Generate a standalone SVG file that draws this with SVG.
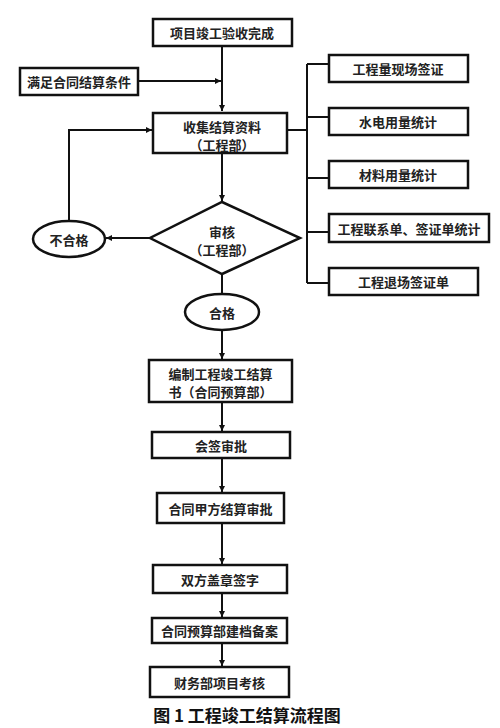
<svg xmlns="http://www.w3.org/2000/svg" width="500" height="728" viewBox="0 0 500 728">
<defs>
<marker id="ah" markerWidth="8" markerHeight="8" refX="6" refY="4" orient="auto" markerUnits="userSpaceOnUse">
<path d="M0,1 L6,4 L0,7 Z" fill="#111"/>
</marker>
<style>
.box{fill:#fff;stroke:#111;stroke-width:2.5}
.ln{fill:none;stroke:#111;stroke-width:2}
.t{font-family:"Noto Sans CJK SC","Noto Sans",sans-serif;font-weight:bold;font-size:13px;fill:#222;text-anchor:middle;dominant-baseline:central}
.cap{font-family:"Noto Sans CJK SC","Noto Sans",sans-serif;font-weight:bold;font-size:17px;fill:#111;text-anchor:middle}
</style>
</defs>
<rect width="500" height="728" fill="#fff"/>
<g id="connectors">
<line class="ln" x1="222" y1="46" x2="222" y2="111" marker-end="url(#ah)"/>
<line class="ln" x1="138" y1="81" x2="221" y2="81" marker-end="url(#ah)"/>
<polyline class="ln" points="287,130 307,130"/>
<line class="ln" x1="307" y1="64" x2="307" y2="283"/>
<line class="ln" x1="307" y1="64" x2="329" y2="64"/>
<line class="ln" x1="307" y1="117" x2="329" y2="117"/>
<line class="ln" x1="307" y1="178" x2="329" y2="178"/>
<line class="ln" x1="307" y1="232" x2="329" y2="232"/>
<line class="ln" x1="307" y1="283" x2="329" y2="283"/>
<line class="ln" x1="222" y1="153" x2="222" y2="201" marker-end="url(#ah)"/>
<line class="ln" x1="150" y1="238" x2="106" y2="238" marker-end="url(#ah)"/>
<polyline class="ln" points="69,221 69,130 152,130" marker-end="url(#ah)"/>
<line class="ln" x1="222" y1="274" x2="222" y2="294"/>
<line class="ln" x1="222" y1="330" x2="222" y2="359" marker-end="url(#ah)"/>
<line class="ln" x1="222" y1="402" x2="222" y2="431" marker-end="url(#ah)"/>
<line class="ln" x1="222" y1="458" x2="222" y2="492" marker-end="url(#ah)"/>
<line class="ln" x1="222" y1="523" x2="222" y2="564" marker-end="url(#ah)"/>
<line class="ln" x1="222" y1="593" x2="222" y2="617" marker-end="url(#ah)"/>
<line class="ln" x1="222" y1="643" x2="222" y2="666" marker-end="url(#ah)"/>
</g>
<g id="n-start"><rect class="box" x="153" y="19" width="139" height="27"/><text class="t" x="222" y="32.5">项目竣工验收完成</text></g>
<g id="n-cond"><rect class="box" x="20" y="68" width="118" height="27"/><text class="t" x="79" y="81.5">满足合同结算条件</text></g>
<g id="n-collect"><rect class="box" x="153" y="113" width="134" height="40"/><text class="t" x="222" y="126">收集结算资料</text><text class="t" x="222" y="144">（工程部）</text></g>
<g id="n-r1"><rect class="box" x="329" y="55" width="139" height="27"/><text class="t" x="398" y="68.5">工程量现场签证</text></g>
<g id="n-r2"><rect class="box" x="329" y="108" width="139" height="27"/><text class="t" x="398" y="121.5">水电用量统计</text></g>
<g id="n-r3"><rect class="box" x="329" y="161" width="139" height="27"/><text class="t" x="398" y="174.5">材料用量统计</text></g>
<g id="n-r4"><rect class="box" x="329" y="214" width="160" height="28"/><text class="t" x="409" y="228">工程联系单、签证单统计</text></g>
<g id="n-r5"><rect class="box" x="329" y="268" width="149" height="27"/><text class="t" x="403.5" y="281.5">工程退场签证单</text></g>
<g id="n-review"><polygon class="box" points="222,202 300,238 222,274 150,238"/><text class="t" x="222" y="231">审核</text><text class="t" x="222" y="249">（工程部）</text></g>
<g id="n-fail"><ellipse class="box" cx="69" cy="239" rx="36" ry="18"/><text class="t" x="69" y="239">不合格</text></g>
<g id="n-pass"><ellipse class="box" cx="222" cy="312" rx="37" ry="18"/><text class="t" x="222" y="312">合格</text></g>
<g id="n-compile"><rect class="box" x="149" y="360" width="143" height="42"/><text class="t" x="220.5" y="373">编制工程竣工结算</text><text class="t" x="220.5" y="391">书（合同预算部）</text></g>
<g id="n-sign"><rect class="box" x="152" y="432" width="138" height="26"/><text class="t" x="221" y="445">会签审批</text></g>
<g id="n-client"><rect class="box" x="157" y="493" width="127" height="30"/><text class="t" x="220.5" y="508">合同甲方结算审批</text></g>
<g id="n-seal"><rect class="box" x="153" y="565" width="134" height="28"/><text class="t" x="220" y="579">双方盖章签字</text></g>
<g id="n-archive"><rect class="box" x="152" y="618" width="135" height="25"/><text class="t" x="219.5" y="630.5">合同预算部建档备案</text></g>
<g id="n-finance"><rect class="box" x="150" y="667" width="139" height="30"/><text class="t" x="219.5" y="682">财务部项目考核</text></g>
<text class="cap" x="247" y="722">图 1  工程竣工结算流程图</text>
</svg>
